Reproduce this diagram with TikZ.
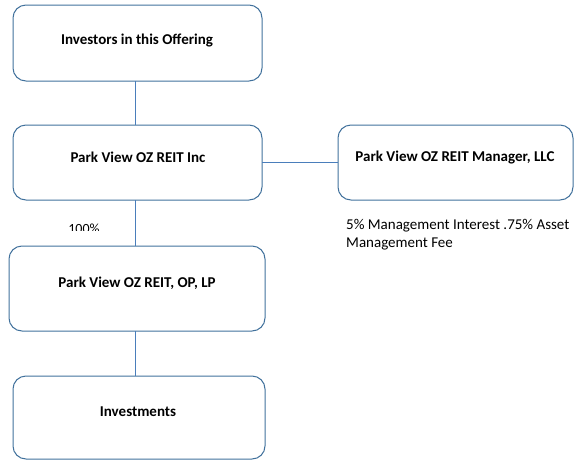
\documentclass[tikz,border=0pt]{standalone}
\usepackage{fontspec}
\setmainfont{Carlito}
\definecolor{boxc}{HTML}{41719C}
\definecolor{linec}{HTML}{4A7EBB}
\begin{document}
\begin{tikzpicture}[x=1pt,y=-1pt,
  box/.style={draw=boxc,line width=1pt,rounded corners=13pt},
  lbl/.style={font=\fontsize{15}{18}\selectfont\bfseries,anchor=center,inner sep=0pt},
  conn/.style={draw=linec,line width=0.9pt}]
\useasboundingbox (0,0) rectangle (582,464);
\draw[box] (13,5) rectangle (262,81);
\coordinate (b1) at (135,81);
\node[lbl] (t1) at (137,40) {Investors in this Offering};
\draw[box] (13,125) rectangle (262,200);
\coordinate (b2t) at (135,125);
\coordinate (b2b) at (135,200);
\coordinate (b2r) at (262,162);
\node[lbl] (t2) at (138,157) {Park View OZ REIT Inc};
\draw[box] (338,125) rectangle (573,200);
\coordinate (b3l) at (338,162);
\node[lbl] (t3) at (455,158) {Park View OZ REIT Manager, LLC};
\node[anchor=base west,inner sep=0pt,font=\fontsize{15}{18}\selectfont] (note1) at (346,229) {5\% Management Interest .75\% Asset};
\node[anchor=base west,inner sep=0pt,font=\fontsize{15}{18}\selectfont] (note2) at (346,247) {Management Fee};
\begin{scope}
\clip (40,200) rectangle (130,230);
\node[anchor=base,inner sep=0pt,font=\fontsize{14}{16}\selectfont] (pct) at (84,233) {100\%};
\end{scope}
\draw[box] (9,246) rectangle (265,331);
\coordinate (b4t) at (135,246);
\coordinate (b4b) at (135,331);
\node[lbl] (t4) at (137,283) {Park View OZ REIT, OP, LP};
\draw[box] (13,376) rectangle (265,459);
\coordinate (b5t) at (135,376);
\node[lbl] (t5) at (138,412) {Investments};
\draw[conn] (b1) -- (b2t);
\draw[conn] (b2r) -- (b3l);
\draw[conn] (b2b) -- (b4t);
\draw[conn] (b4b) -- (b5t);
\end{tikzpicture}
\end{document}
